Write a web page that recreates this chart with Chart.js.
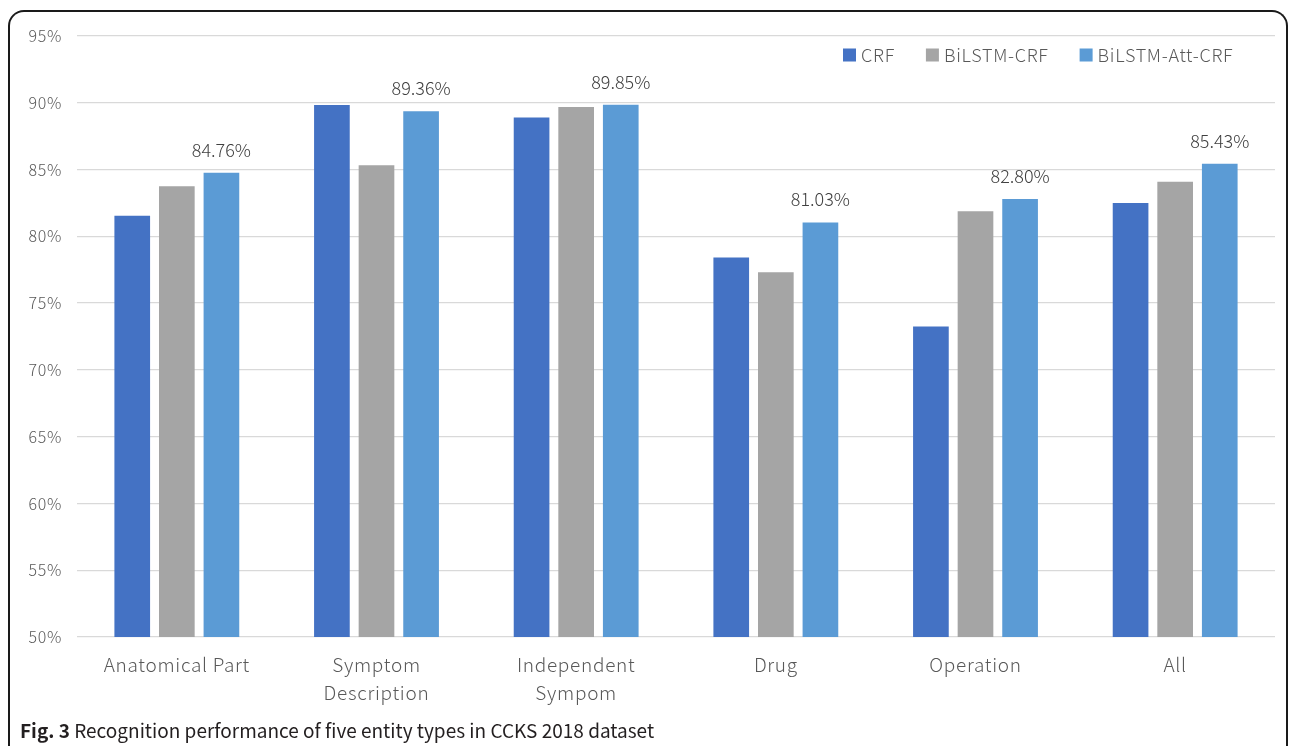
<!DOCTYPE html>
<html>
<head>
<meta charset="utf-8">
<script src="https://cdn.jsdelivr.net/npm/chart.js@4/dist/chart.umd.min.js"></script>
<style>
  html, body { margin: 0; padding: 0; background: #fff; overflow: hidden; }
  #wrap { position: relative; width: 1292px; height: 746px; }
  #frame {
    position: absolute; left: 8px; top: 10px; width: 1280px; height: 760px;
    border: 2px solid #1a1a1a; border-bottom: none; border-radius: 16px 16px 0 0;
    box-sizing: border-box;
  }
  #chartBox { position: absolute; left: 0; top: 0; width: 1292px; height: 746px; }
  #caption {
    position: absolute; left: 20px; top: 716px;
    font-family: "Noto Sans CJK SC", "Noto Sans", sans-serif; font-size: 19px; color: #231f20;
    white-space: nowrap;
  }
  #caption b { font-weight: 700; }
</style>
</head>
<body>
<div id="wrap">
  <div id="frame"></div>
  <div id="chartBox"><canvas id="chart"></canvas></div>
  <div id="caption"><b>Fig. 3</b> Recognition performance of five entity types in CCKS 2018 dataset</div>
</div>
<script>
// Categories and series values (percent)
const categories = [
    'Anatomical Part',
    ['Symptom', 'Description'],
    ['Independent', 'Sympom'],
    'Drug',
    'Operation',
    'All'
];
const crf = [81.55, 89.83, 88.90, 78.42, 73.25, 82.50];
const bilstmCrf = [83.75, 85.33, 89.68, 77.32, 81.87, 84.08];
const bilstmAttCrf = [84.76, 89.36, 89.85, 81.03, 82.80, 85.43];
const yTicks = [50, 55, 60, 65, 70, 75, 80, 85, 90, 95];

const FONT = '"Noto Sans CJK SC", "Noto Sans", sans-serif';

// Slightly spaced-out axis text, like the original figure
const textSpacing = {
    id: 'textSpacing',
    beforeDraw(chart) { chart.ctx.letterSpacing = '0.7px'; },
    beforeDatasetsDraw(chart) { chart.ctx.letterSpacing = '0px'; }
};

// Value labels above the BiLSTM-Att-CRF bars
const valueLabels = {
    id: 'valueLabels',
    afterDatasetsDraw(chart) {
        const ctx = chart.ctx;
        const meta = chart.getDatasetMeta(2);
        ctx.save();
        ctx.letterSpacing = '0px';
        ctx.font = '300 18px ' + FONT;
        ctx.fillStyle = '#404040';
        ctx.textAlign = 'center';
        ctx.textBaseline = 'middle';
        meta.data.forEach((bar, i) => {
            ctx.fillText(bilstmAttCrf[i].toFixed(2) + '%', bar.x, bar.y - 23);
        });
        ctx.restore();
    }
};

// Legend drawn inside the plot area, top right
const innerLegend = {
    id: 'innerLegend',
    afterDraw(chart) {
        const ctx = chart.ctx;
        ctx.save();
        ctx.letterSpacing = '0.7px';
        ctx.font = '300 18px ' + FONT;
        ctx.textBaseline = 'middle';
        let x = 843;
        const y = 55;
        chart.data.datasets.forEach(ds => {
            ctx.fillStyle = ds.backgroundColor;
            ctx.fillRect(x, y - 6.5, 13, 13);
            x += 18;
            ctx.fillStyle = '#595959';
            ctx.fillText(ds.label, x, y);
            x += ctx.measureText(ds.label).width + 31;
        });
        ctx.restore();
    }
};

new Chart(document.getElementById('chart').getContext('2d'), {
    type: 'bar',
    data: {
        labels: categories,
        datasets: [
            { label: 'CRF', data: crf, backgroundColor: '#4472C4' },
            { label: 'BiLSTM-CRF', data: bilstmCrf, backgroundColor: '#A5A5A5' },
            { label: 'BiLSTM-Att-CRF', data: bilstmAttCrf, backgroundColor: '#5B9BD5' }
        ]
    },
    options: {
        responsive: true,
        maintainAspectRatio: false,
        animation: false,
        devicePixelRatio: 1,
        layout: { padding: { left: 0, right: 17, top: 36, bottom: 38 } },
        datasets: { bar: { categoryPercentage: 0.67, barPercentage: 0.8 } },
        plugins: {
            legend: { display: false },
            tooltip: { enabled: false }
        },
        scales: {
            x: {
                grid: { display: false, drawTicks: false },
                border: { display: false },
                ticks: {
                    color: '#595959',
                    font: { family: FONT, size: 19, weight: 300, lineHeight: 1.47 },
                    padding: 14,
                    maxRotation: 0,
                    autoSkip: false
                },
                afterFit(scale) { scale.height = 71; }
            },
            y: {
                min: 50,
                max: 95,
                afterBuildTicks(scale) { scale.ticks = yTicks.map(v => ({ value: v })); },
                grid: { color: '#d9d9d9', lineWidth: 1.3, drawTicks: false },
                border: { display: false },
                ticks: {
                    color: '#595959',
                    font: { family: FONT, size: 16, weight: 300 },
                    padding: 15,
                    callback: v => v + '%'
                },
                afterFit(scale) { scale.width = 77; }
            }
        }
    },
    plugins: [textSpacing, valueLabels, innerLegend]
});
</script>
</body>
</html>
